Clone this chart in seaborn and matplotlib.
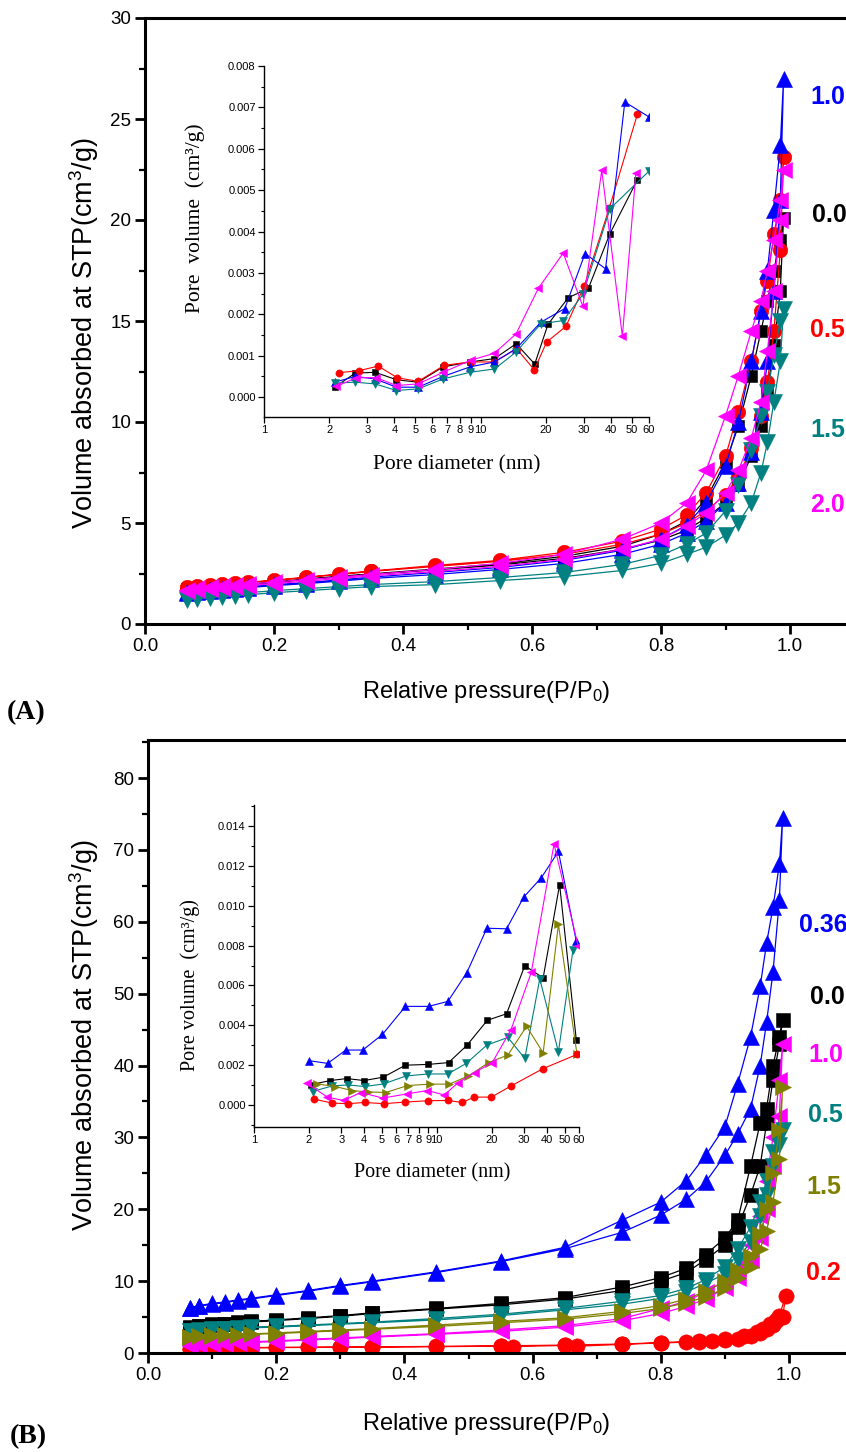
import numpy as np
import pandas as pd
import matplotlib
matplotlib.use("Agg")
import matplotlib.pyplot as plt
import seaborn as sns
from matplotlib.ticker import MultipleLocator, FixedLocator, FixedFormatter, NullLocator, FormatStrFormatter

# ---------------- DATA ----------------
# Panel A : isotherms (adsorption then desorption)
PA_ADS = [0.065, 0.08, 0.10, 0.12, 0.14, 0.16, 0.20, 0.25, 0.30, 0.35, 0.45, 0.55, 0.65, 0.74,
          0.80, 0.84, 0.87, 0.90, 0.92, 0.94, 0.955, 0.965, 0.975, 0.985, 0.99]
PA_DES = [0.985, 0.975, 0.965, 0.955, 0.94, 0.92, 0.90, 0.87, 0.84, 0.80, 0.74, 0.65, 0.55, 0.45,
          0.35, 0.30, 0.25, 0.20, 0.16, 0.14, 0.12, 0.10, 0.08, 0.065]

a_black_ads = [1.70, 1.75, 1.80, 1.85, 1.90, 1.95, 2.05, 2.20, 2.33, 2.45, 2.68, 2.92, 3.25, 3.70,
               4.15, 4.65, 5.25, 6.00, 6.90, 8.30, 9.8, 11.5, 13.8, 16.5, 20.1]
a_black_des = [19.0, 17.5, 16.0, 14.5, 12.3, 9.8, 8.0, 6.2, 5.1, 4.45, 3.85, 3.35, 2.98, 2.72,
               2.48, 2.36, 2.23, 2.08, 1.98, 1.93, 1.88, 1.83, 1.78, 1.73]
a_red_ads = [1.80, 1.85, 1.90, 1.95, 2.00, 2.05, 2.15, 2.30, 2.45, 2.60, 2.85, 3.10, 3.45, 3.95,
             4.45, 5.00, 5.60, 6.40, 7.30, 8.70, 10.3, 12.0, 14.5, 18.5, 23.1]
a_red_des = [21.0, 19.3, 17.0, 15.5, 13.0, 10.5, 8.3, 6.5, 5.4, 4.7, 4.1, 3.55, 3.15, 2.9,
             2.62, 2.47, 2.32, 2.17, 2.07, 2.02, 1.97, 1.92, 1.87, 1.82]
a_blue_ads = [1.55, 1.60, 1.65, 1.70, 1.75, 1.80, 1.90, 2.00, 2.12, 2.25, 2.45, 2.70, 3.00, 3.45,
              3.95, 4.50, 5.10, 6.00, 7.00, 8.50, 10.5, 13.0, 16.5, 21.0, 27.0]
a_blue_des = [23.7, 20.5, 17.5, 15.5, 13.0, 10.0, 7.8, 6.0, 4.9, 4.2, 3.65, 3.15, 2.80, 2.55,
              2.32, 2.18, 2.05, 1.95, 1.85, 1.80, 1.75, 1.70, 1.65, 1.58]
a_teal_ads = [1.20, 1.25, 1.30, 1.35, 1.40, 1.45, 1.55, 1.65, 1.75, 1.85, 1.95, 2.15, 2.35, 2.65,
              3.00, 3.45, 3.80, 4.40, 5.00, 6.00, 7.50, 9.00, 11.0, 13.0, 15.6]
a_teal_des = [15.0, 13.3, 11.5, 10.3, 8.6, 6.9, 5.6, 4.5, 3.95, 3.40, 2.95, 2.55, 2.30, 2.10,
              1.95, 1.85, 1.75, 1.65, 1.55, 1.50, 1.45, 1.40, 1.35, 1.30]
a_mag_ads = [1.65, 1.70, 1.75, 1.80, 1.85, 1.90, 2.00, 2.12, 2.25, 2.38, 2.60, 2.85, 3.20, 3.70,
             4.20, 4.85, 5.50, 6.50, 7.60, 9.20, 11.0, 13.5, 16.5, 20.0, 22.5]
a_mag_des = [21.0, 19.0, 17.5, 16.0, 14.5, 12.3, 10.3, 7.6, 6.0, 5.0, 4.2, 3.45, 3.0, 2.7,
             2.45, 2.32, 2.2, 2.08, 1.97, 1.92, 1.87, 1.82, 1.77, 1.70]

# Panel A inset : pore size distributions
ia_black_d = [2.12, 2.64, 3.26, 4.09, 5.15, 6.72, 8.93, 11.6, 14.6, 17.8, 20.5, 25.4, 31.5, 39.6, 53.0]
ia_black_v = [0.00024, 0.00058, 0.00060, 0.00042, 0.00036, 0.00073, 0.00085, 0.00093, 0.00129,
              0.00080, 0.00176, 0.00240, 0.00263, 0.00395, 0.00525]
ia_red_d = [2.21, 2.75, 3.37, 4.12, 5.15, 6.8, 9.0, 11.6, 14.7, 17.7, 20.2, 24.8, 30.1, 39.4, 53.0]
ia_red_v = [0.00059, 0.00064, 0.00075, 0.00047, 0.00038, 0.00077, 0.00085, 0.00085, 0.00117,
            0.00066, 0.00133, 0.00171, 0.00268, 0.00458, 0.00683]
ia_blue_d = [2.12, 2.64, 3.26, 4.09, 5.15, 6.72, 8.93, 11.6, 14.6, 19.0, 24.5, 30.4, 37.8, 46.4, 60.0]
ia_blue_v = [0.00036, 0.00050, 0.00044, 0.00024, 0.00024, 0.00050, 0.00073, 0.00085, 0.00117,
             0.00181, 0.00214, 0.00347, 0.00310, 0.00713, 0.00677]
ia_teal_d = [2.12, 2.64, 3.26, 4.09, 5.15, 6.72, 8.93, 11.6, 14.6, 19.0, 24.1, 29.7, 39.6, 60.0]
ia_teal_v = [0.00034, 0.00036, 0.00032, 0.00016, 0.00020, 0.00044, 0.00060, 0.00068, 0.00109,
             0.00177, 0.00185, 0.00248, 0.00455, 0.00546]
ia_mag_d = [2.16, 2.67, 3.30, 4.09, 5.15, 6.72, 9.0, 11.6, 14.6, 18.5, 24.1, 29.7, 36.3, 45.2, 52.2]
ia_mag_v = [0.00026, 0.00047, 0.00047, 0.00028, 0.00032, 0.00060, 0.00089, 0.00106, 0.00153,
            0.00263, 0.00348, 0.00219, 0.00548, 0.00147, 0.00542]

# Panel B : isotherms
PB_ADS = PA_ADS
PB_DES = PA_DES
b_blue_ads = [6.2, 6.5, 6.8, 7.0, 7.3, 7.5, 8.0, 8.6, 9.3, 9.9, 11.2, 12.7, 14.5, 16.8,
              19.2, 21.4, 23.8, 27.5, 30.5, 34.0, 40.0, 46.0, 53.0, 63.0, 74.5]
b_blue_des = [68.0, 62.0, 57.0, 51.0, 44.0, 37.5, 31.5, 27.5, 24.0, 21.0, 18.5, 14.7, 12.8, 11.3,
              10.0, 9.4, 8.7, 8.1, 7.6, 7.4, 7.1, 6.9, 6.6, 6.3]
b_black_ads = [3.5, 3.7, 3.9, 4.0, 4.2, 4.3, 4.5, 4.8, 5.1, 5.5, 6.1, 6.7, 7.5, 8.7,
               10.0, 11.2, 13.0, 15.0, 17.5, 22.0, 26.0, 32.0, 38.0, 43.0, 46.3]
b_black_des = [44.0, 40.0, 34.0, 32.0, 26.0, 18.5, 16.0, 13.7, 11.8, 10.5, 9.2, 7.7, 6.9, 6.2,
               5.6, 5.2, 4.9, 4.6, 4.4, 4.3, 4.1, 4.0, 3.8, 3.6]
b_teal_ads = [3.0, 3.1, 3.2, 3.3, 3.4, 3.5, 3.6, 3.8, 4.0, 4.2, 4.6, 5.2, 6.0, 6.8,
              7.6, 8.5, 9.7, 11.0, 13.0, 15.5, 19.0, 22.0, 26.0, 29.0, 31.0]
b_teal_des = [30.0, 28.0, 24.0, 21.0, 17.5, 14.5, 12.0, 10.2, 9.0, 8.0, 7.2, 6.2, 5.4, 4.8,
              4.3, 4.1, 3.9, 3.7, 3.6, 3.5, 3.4, 3.3, 3.2, 3.1]
b_olive_ads = [2.2, 2.3, 2.4, 2.45, 2.5, 2.6, 2.7, 2.9, 3.1, 3.3, 3.7, 4.2, 4.7, 5.5,
               6.2, 7.0, 7.8, 9.0, 10.5, 12.0, 14.5, 17.0, 21.0, 27.0, 37.0]
b_olive_des = [31.0, 25.0, 20.0, 16.5, 13.5, 11.5, 10.0, 8.6, 7.5, 6.6, 5.8, 4.9, 4.4, 3.9,
               3.4, 3.2, 3.0, 2.8, 2.65, 2.55, 2.5, 2.45, 2.35, 2.25]
b_mag_ads = [1.0, 1.1, 1.2, 1.3, 1.4, 1.45, 1.6, 1.8, 2.0, 2.2, 2.6, 3.0, 3.6, 4.5,
             5.5, 6.5, 7.5, 9.0, 10.5, 13.0, 16.0, 20.0, 26.0, 33.0, 43.0]
b_mag_des = [38.0, 30.0, 24.0, 19.0, 15.0, 12.0, 10.0, 8.5, 7.2, 6.2, 4.8, 3.8, 3.2, 2.7,
             2.3, 2.1, 1.9, 1.7, 1.55, 1.5, 1.4, 1.3, 1.2, 1.1]
b_red_p_ads = [0.065, 0.08, 0.10, 0.12, 0.14, 0.16, 0.20, 0.25, 0.30, 0.35, 0.45, 0.55, 0.57, 0.65,
               0.67, 0.74, 0.80, 0.84, 0.86, 0.88, 0.90, 0.92, 0.94, 0.955, 0.965, 0.975, 0.98,
               0.985, 0.995]
b_red_ads = [0.6, 0.62, 0.65, 0.67, 0.7, 0.72, 0.75, 0.78, 0.8, 0.82, 0.88, 0.95, 0.9, 1.05,
             0.95, 1.2, 1.4, 1.5, 1.6, 1.7, 1.8, 2.0, 2.4, 2.8, 3.3, 3.9, 4.5, 5.2, 8.0]
b_red_p_des = [0.99, 0.98, 0.97, 0.96, 0.95, 0.93, 0.90, 0.86, 0.80, 0.74, 0.65, 0.55, 0.45,
               0.35, 0.30, 0.25, 0.20, 0.16, 0.12, 0.08, 0.065]
b_red_des = [5.0, 4.6, 4.0, 3.4, 2.9, 2.3, 1.9, 1.65, 1.45, 1.25, 1.1, 1.0, 0.92, 0.85, 0.83,
             0.8, 0.78, 0.75, 0.7, 0.65, 0.62]

# Panel B inset
ib_blue_d = [1.99, 2.53, 3.18, 3.94, 5.04, 6.74, 9.02, 11.5, 14.6, 18.8, 24.1, 29.9, 37.3, 46.3, 58.0]
ib_blue_v = [0.00223, 0.00209, 0.00276, 0.00276, 0.00354, 0.00495, 0.00495, 0.00520, 0.00664,
             0.00887, 0.00884, 0.01043, 0.01140, 0.01272, 0.00821]
ib_black_d = [2.06, 2.62, 3.22, 4.0, 5.1, 6.74, 9.0, 11.6, 14.6, 18.9, 24.1, 30.3, 38.2, 47.0, 58.0]
ib_black_v = [0.00103, 0.00123, 0.00133, 0.00123, 0.00140, 0.00200, 0.00204, 0.00213, 0.00299,
              0.00425, 0.00458, 0.00699, 0.00638, 0.01106, 0.00326]
ib_teal_d = [2.09, 2.68, 3.26, 4.03, 5.12, 6.78, 9.0, 11.5, 14.5, 18.8, 24.5, 30.3, 36.6, 46.3, 55.6]
ib_teal_v = [0.00068, 0.00096, 0.00101, 0.00093, 0.00106, 0.00146, 0.00156, 0.00156, 0.00209,
             0.00301, 0.00339, 0.00234, 0.00633, 0.00267, 0.00777]
ib_olive_d = [2.22, 2.79, 3.42, 4.2, 5.26, 6.93, 9.18, 11.7, 14.9, 19.2, 24.5, 31.0, 38.2, 46.3, 58.5]
ib_olive_v = [0.00106, 0.00093, 0.00073, 0.00066, 0.00063, 0.00098, 0.00105, 0.00105, 0.00146,
              0.00213, 0.00251, 0.00395, 0.00262, 0.00907, 0.00254]
ib_mag_d = [1.94, 2.52, 3.09, 3.84, 5.07, 6.87, 8.87, 11.0, 13.0, 16.1, 20.1, 25.5, 32.9, 43.8, 59.3]
ib_mag_v = [0.00110, 0.00040, 0.00023, 0.00063, 0.00035, 0.00056, 0.00073, 0.00051, 0.00110,
            0.00163, 0.00213, 0.00379, 0.00666, 0.01309, 0.00799]
ib_red_d = [2.12, 2.68, 3.26, 4.03, 5.12, 6.74, 9.0, 11.5, 13.8, 16.0, 19.9, 25.5, 38.2, 58.5]
ib_red_v = [0.00030, 0.00010, 0.00007, 0.00013, 0.00007, 0.00015, 0.00022, 0.00023, 0.00013,
            0.00040, 0.00040, 0.00096, 0.00183, 0.00254]

LABELS_A = ["1.0", "0.0", "0.5", "1.5", "2.0"]
LABELS_B = ["0.36", "0.0", "1.0", "0.5", "1.5", "0.2"]
INSET_XTICKS = [1, 2, 3, 4, 5, 6, 7, 8, 9, 10, 20, 30, 40, 50, 60]

BLUE, BLACK, RED, TEAL, MAG, OLIVE = "#0000FF", "#000000", "#FF0000", "#008080", "#FF00FF", "#808000"

# ---------------- STYLE ----------------
sns.set_theme(style="ticks")
plt.rcParams["font.family"] = ["Liberation Sans", "DejaVu Sans"]
plt.rcParams["mathtext.fontset"] = "custom"
plt.rcParams["mathtext.rm"] = "Liberation Sans"
plt.rcParams["mathtext.it"] = "Liberation Sans:italic"
for k in ["axes.edgecolor", "xtick.color", "ytick.color", "text.color", "axes.labelcolor"]:
    plt.rcParams[k] = "black"

W, H = 846, 1452
fig = plt.figure(figsize=(W / 100, H / 100), dpi=100)
fig.patch.set_facecolor("white")


def fx(px):
    return px / W


def fy(py):
    return 1 - py / H


def draw(ax, x, y, color, marker, ms, lw):
    sns.lineplot(x=list(x), y=list(y), ax=ax, sort=False, estimator=None, color=color,
                 marker=marker, markersize=ms, markeredgecolor=color, markeredgewidth=0.4,
                 linewidth=lw, legend=False)


def style_main(ax, ymax, ymaj, ymin):
    ax.set_xlim(0, 1.1)
    ax.set_ylim(0, ymax)
    ax.xaxis.set_major_locator(FixedLocator([0, 0.2, 0.4, 0.6, 0.8, 1.0]))
    ax.xaxis.set_major_formatter(FormatStrFormatter("%.1f"))
    ax.xaxis.set_minor_locator(FixedLocator([0.1, 0.3, 0.5, 0.7, 0.9]))
    ax.yaxis.set_major_locator(MultipleLocator(ymaj))
    ax.yaxis.set_minor_locator(MultipleLocator(ymin))
    ax.tick_params(which="major", direction="out", length=7, width=2, labelsize=13.5, pad=3)
    ax.tick_params(which="minor", direction="out", length=4, width=1.6)
    for s in ["left", "bottom", "top", "right"]:
        ax.spines[s].set_linewidth(2.2)
        ax.spines[s].set_color("black")
    ax.set_xlabel("")
    ax.set_ylabel("")
    ax.set_facecolor("white")


def style_inset(ax, ylo, yhi, ymaj, ymin):
    ax.set_xscale("log")
    ax.set_xlim(1, 60)
    ax.set_ylim(ylo, yhi)
    ax.xaxis.set_major_locator(FixedLocator(INSET_XTICKS))
    ax.xaxis.set_major_formatter(FixedFormatter([str(t) for t in INSET_XTICKS]))
    ax.xaxis.set_minor_locator(NullLocator())
    ax.yaxis.set_major_locator(MultipleLocator(ymaj))
    ax.yaxis.set_minor_locator(MultipleLocator(ymin))
    ax.yaxis.set_major_formatter(FormatStrFormatter("%.3f"))
    ax.tick_params(which="major", direction="out", length=4, width=0.9, labelsize=8, pad=2)
    ax.tick_params(which="minor", direction="out", length=2.5, width=0.8)
    for s in ["top", "right"]:
        ax.spines[s].set_visible(False)
    for s in ["left", "bottom"]:
        ax.spines[s].set_linewidth(1.0)
        ax.spines[s].set_color("black")
    ax.set_xlabel("")
    ax.set_ylabel("")
    ax.patch.set_alpha(0)


# ---------------- PANEL A ----------------
axA = fig.add_axes([fx(145), fy(624), 1.1 * 645 / W, (624 - 18) / H])
MS = 11
LW = 0.9
draw(axA, PA_ADS + PA_DES, a_black_ads + a_black_des, BLACK, "s", MS * 0.85, LW)
draw(axA, PA_ADS + PA_DES, a_red_ads + a_red_des, RED, "o", MS * 0.95, LW)
draw(axA, PA_ADS + PA_DES, a_blue_ads + a_blue_des, BLUE, "^", MS, LW)
draw(axA, PA_ADS + PA_DES, a_teal_ads + a_teal_des, TEAL, "v", MS, LW)
draw(axA, PA_ADS + PA_DES, a_mag_ads + a_mag_des, MAG, "<", MS, LW)
style_main(axA, 30, 5, 2.5)

insA = fig.add_axes([fx(264), fy(417), 385 / W, 351 / H])
ims = 5.2
ilw = 0.8
draw(insA, ia_black_d, ia_black_v, BLACK, "s", ims * 0.9, ilw)
draw(insA, ia_red_d, ia_red_v, RED, "o", ims, ilw)
draw(insA, ia_blue_d, ia_blue_v, BLUE, "^", ims, ilw)
draw(insA, ia_teal_d, ia_teal_v, TEAL, "v", ims, ilw)
draw(insA, ia_mag_d, ia_mag_v, MAG, "<", ims, ilw)
style_inset(insA, -0.00048, 0.008, 0.001, 0.0005)

# ---------------- PANEL B ----------------
axB = fig.add_axes([fx(148), fy(1353), 1.1 * 641 / W, (1353 - 740) / H])
draw(axB, PB_ADS + PB_DES, b_blue_ads + b_blue_des, BLUE, "^", MS * 1.05, LW)
draw(axB, PB_ADS + PB_DES, b_black_ads + b_black_des, BLACK, "s", MS * 0.9, LW)
draw(axB, b_red_p_ads + b_red_p_des, b_red_ads + b_red_des, RED, "o", MS, LW)
draw(axB, PB_ADS + PB_DES, b_mag_ads + b_mag_des, MAG, "<", MS * 1.05, LW)
draw(axB, PB_ADS + PB_DES, b_teal_ads + b_teal_des, TEAL, "v", MS * 1.05, LW)
draw(axB, PB_ADS + PB_DES, b_olive_ads + b_olive_des, OLIVE, ">", MS * 1.05, LW)
style_main(axB, 85.3, 10, 5)

insB = fig.add_axes([fx(254), fy(1127), 325 / W, 322 / H])
draw(insB, ib_blue_d, ib_blue_v, BLUE, "^", ims, ilw)
draw(insB, ib_black_d, ib_black_v, BLACK, "s", ims * 0.9, ilw)
draw(insB, ib_teal_d, ib_teal_v, TEAL, "v", ims, ilw)
draw(insB, ib_olive_d, ib_olive_v, OLIVE, ">", ims, ilw)
draw(insB, ib_mag_d, ib_mag_v, MAG, "<", ims, ilw)
draw(insB, ib_red_d, ib_red_v, RED, "o", ims, ilw)
style_inset(insB, -0.0011, 0.01505, 0.002, 0.001)

# ---------------- TEXT ----------------
ylab = "Volume absorbed at STP(cm$^3$/g)"
xlab = "Relative pressure(P/P$_0$)"
fig.text(fx(84), fy(333), ylab, rotation=90, ha="center", va="center", fontsize=19.5)
fig.text(fx(84), fy(1035), ylab, rotation=90, ha="center", va="center", fontsize=19.5)
fig.text(fx(486), fy(692), xlab, ha="center", va="center", fontsize=17)
fig.text(fx(486), fy(1424), xlab, ha="center", va="center", fontsize=17)

serif = ["Liberation Serif", "DejaVu Serif"]
fig.text(fx(195), fy(218), "Pore  volume  (cm\u00b3/g)", rotation=90, ha="center", va="center",
         fontsize=15.5, family=serif)
fig.text(fx(457), fy(465), "Pore diameter (nm)", ha="center", va="center", fontsize=15.5, family=serif)
fig.text(fx(190), fy(985), "Pore volume  (cm\u00b3/g)", rotation=90, ha="center", va="center",
         fontsize=14.5, family=serif)
fig.text(fx(432), fy(1173), "Pore diameter (nm)", ha="center", va="center", fontsize=14.5, family=serif)

fig.text(fx(7), fy(713), "(A)", ha="left", va="center", fontsize=20, fontweight="bold", family=serif)
fig.text(fx(10), fy(1437), "(B)", ha="left", va="center", fontsize=20, fontweight="bold", family=serif)

colsA = [BLUE, BLACK, RED, TEAL, MAG]
posA = [(810, 97), (812, 215), (810, 330), (810, 430), (810, 505)]
for t, c, (x, y) in zip(LABELS_A, colsA, posA):
    fig.text(fx(x), fy(y), t, color=c, ha="left", va="center", fontsize=18, fontweight="bold")

colsB = [BLUE, BLACK, MAG, TEAL, OLIVE, RED]
posB = [(799, 925), (810, 997), (808, 1055), (808, 1115), (806, 1187), (806, 1273)]
for t, c, (x, y) in zip(LABELS_B, colsB, posB):
    fig.text(fx(x), fy(y), t, color=c, ha="left", va="center", fontsize=18, fontweight="bold")

fig.savefig("out.png", dpi=100, facecolor="white")
